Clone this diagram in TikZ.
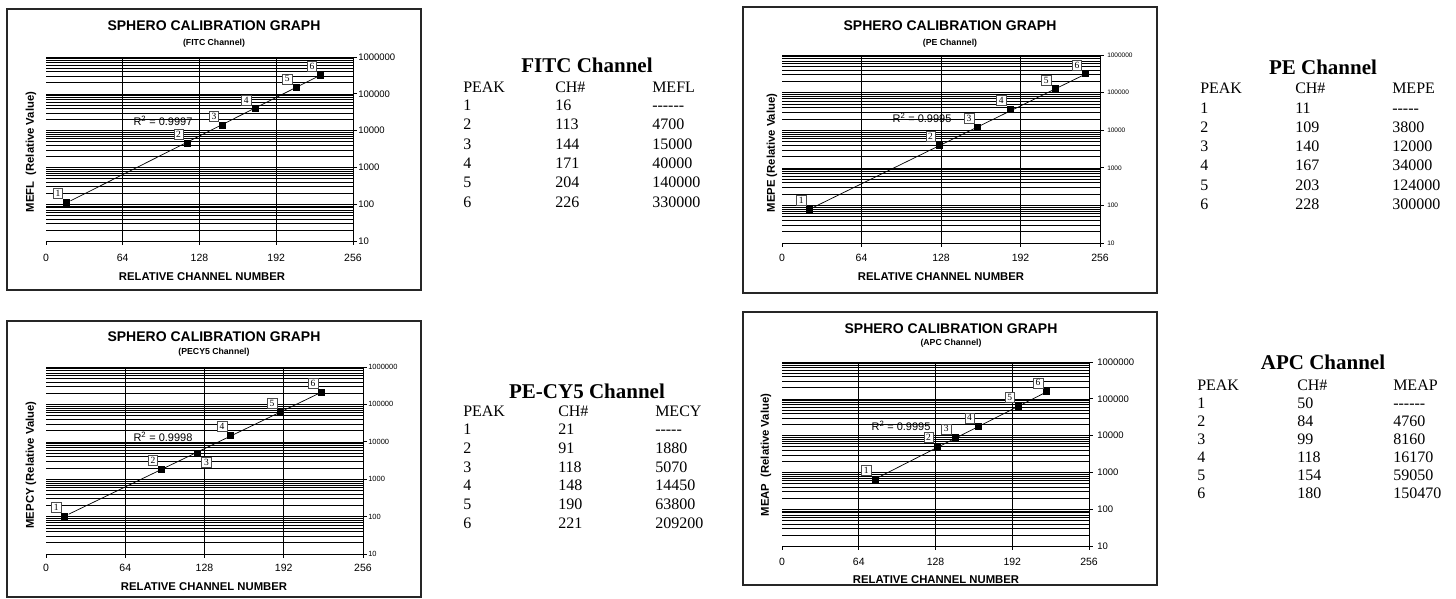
\documentclass[tikz,border=0pt]{standalone}
\usepackage{fontspec}
\setmainfont{Liberation Serif}
\setsansfont{Liberation Sans}
\usetikzlibrary{positioning}
\tikzset{every picture/.style={line width=0.5pt}}
\tikzset{
  frame/.style={draw=black!85,line width=1.3pt},
  gridline/.style={black,line width=0.55pt},
  axisline/.style={black,line width=0.8pt},
  peak/.style={rectangle,fill=black,inner sep=0pt,minimum size=7pt},
  peaklabel/.style={rectangle,draw=black!70,fill=white,inner sep=0.8pt,minimum width=9.5pt,minimum height=10pt,font=\rmfamily\fontsize{9.5}{10}\selectfont},
  trend/.style={black,line width=0.7pt},
  gtitle/.style={font=\sffamily\bfseries\fontsize{14}{16}\selectfont},
  gsub/.style={font=\sffamily\bfseries\fontsize{8.7}{10}\selectfont},
  xtitle/.style={font=\sffamily\bfseries\fontsize{11.3}{13}\selectfont},
  ytitle/.style={font=\sffamily\bfseries\fontsize{11.3}{13}\selectfont,rotate=90},
  rsq/.style={font=\sffamily\fontsize{11}{13}\selectfont},
  ttitle/.style={anchor=base,inner sep=0pt,font=\rmfamily\bfseries\fontsize{21}{24}\selectfont},
  tcell/.style={anchor=base west,inner sep=0pt,font=\rmfamily\fontsize{16}{18}\selectfont}
}
\newcommand{\hy}{-\kern0pt}
\newcommand{\calgrid}[3]{%
  \foreach \dec in {0,...,4}
    \foreach \mm in {1,...,9}
      \draw[gridline] (0,{\dec+log10(\mm)}) -- (256,{\dec+log10(\mm)});
  \draw[gridline] (0,5) -- (256,5);
  \foreach \ch in {64,128,192}
    \draw[gridline] (\ch,0) -- (\ch,5);
  \draw[axisline] (0,0) -- (256,0) -- (256,5);
  \foreach \ch in {0,64,...,256}{
    \draw[axisline] (\ch,0) -- ++(0,-4pt);
    \node[inner sep=0pt,font=\sffamily\fontsize{10.5}{12}\selectfont] at ([yshift=-#3]\ch,0) {\ch};
  }
  \foreach \dec/\val in {0/10,1/100,2/1000,3/10000,4/100000,5/1000000}{
    \draw[axisline] (256,\dec) -- ++(4pt,0);
    \node[anchor=west,inner sep=0pt,font=\sffamily\fontsize{#1}{#1}\selectfont] at ([xshift=#2]256,\dec) {\val};
  }%
}
\begin{document}
\begin{tikzpicture}[x=1pt,y=-1pt]
  \useasboundingbox (0,0) rectangle (1456,599);

  \draw[frame] (7,9) rectangle (421,290);
  \node[gtitle] (g1t) at (214,26) {SPHERO CALIBRATION GRAPH};
  \node[gsub] (g1s) at (214,43) {(FITC Channel)};
  \node[xtitle] (g1x) at (202,277) {RELATIVE CHANNEL NUMBER};
  \node[ytitle] (g1y) at (31,152) {MEFL\ \ (Relative Value)};
  \begin{scope}[shift={(46,241)},x=1.1992pt,y=36.8pt]
    \calgrid{9.5}{5pt}{17pt}
    \foreach \px/\py [count=\i] in {17.3/1.04,117.8/2.66,147.3/3.15,174.3/3.59,208.5/4.16,229.1/4.51}
      \node[peak] (g1p\i) at (\px,\py) {};
    \draw[trend] (g1p1) -- (g1p6);
    \foreach \i in {1,...,6}
      \node[peaklabel,above left=0pt of g1p\i] (g1n\i) {\i};
  \end{scope}
  \node[rsq] (g1r) at (163,121) {R\textsuperscript{2} = 0.9997};

  \draw[frame] (743,7) rectangle (1157,293);
  \node[gtitle] (g2t) at (950,26) {SPHERO CALIBRATION GRAPH};
  \node[gsub] (g2s) at (950,43) {(PE Channel)};
  \node[xtitle] (g2x) at (941,277) {RELATIVE CHANNEL NUMBER};
  \node[ytitle] (g2y) at (772,153) {MEPE (Relative Value)};
  \begin{scope}[shift={(782,243)},x=1.2422pt,y=37.6pt]
    \calgrid{6.5}{7pt}{15pt}
    \foreach \px/\py [count=\i] in {22.5/0.904,126.6/2.606,157.6/3.085,183.6/3.55,219.8/4.096,244.5/4.495}
      \node[peak] (g2p\i) at (\px,\py) {};
    \draw[trend] (g2p1) -- (g2p6);
    \foreach \i in {1,...,6}
      \node[peaklabel,above left=0pt of g2p\i] (g2n\i) {\i};
  \end{scope}
  \node[rsq] (g2r) at (922,118) {R\textsuperscript{2} = 0.9995};

  \draw[frame] (7,321) rectangle (421,597);
  \node[gtitle] (g3t) at (214,337) {SPHERO CALIBRATION GRAPH};
  \node[gsub] (g3s) at (214,352) {(PECY5 Channel)};
  \node[xtitle] (g3x) at (204,587) {RELATIVE CHANNEL NUMBER};
  \node[ytitle] (g3y) at (31,465) {MEPCY (Relative Value)};
  \begin{scope}[shift={(46,554)},x=1.2383pt,y=37.4pt]
    \calgrid{7.5}{5pt}{14pt}
    \foreach \px/\py [count=\i] in {15.3/1.016,93.4/2.27,122.5/2.69,149.2/3.18,189.6/3.79,222.7/4.33}
      \node[peak] (g3p\i) at (\px,\py) {};
    \draw[trend] (g3p1) -- (g3p6);
    \foreach \i in {1,2,4,5,6}
      \node[peaklabel,above left=0pt of g3p\i] (g3n\i) {\i};
    \node[peaklabel,below right=0pt of g3p3] (g3n3) {3};
  \end{scope}
  \node[rsq] (g3r) at (163,437) {R\textsuperscript{2} = 0.9998};

  \draw[frame] (743,312) rectangle (1157,585);
  \node[gtitle] (g4t) at (951,329) {SPHERO CALIBRATION GRAPH};
  \node[gsub] (g4s) at (951,343) {(APC Channel)};
  \node[xtitle] (g4x) at (936,580) {RELATIVE CHANNEL NUMBER};
  \node[ytitle] (g4y) at (766,455) {MEAP\ \ (Relative Value)};
  \begin{scope}[shift={(782,546)},x=1.1992pt,y=36.8pt]
    \calgrid{9.5}{8pt}{16pt}
    \foreach \px/\py [count=\i] in {77.6/1.82,129.5/2.70,144.3/2.94,163.7/3.24,197.1/3.80,220.8/4.19}
      \node[peak] (g4p\i) at (\px,\py) {};
    \draw[trend] (g4p1) -- (g4p6);
    \foreach \i in {1,...,6}
      \node[peaklabel,above left=0pt of g4p\i] (g4n\i) {\i};
  \end{scope}
  \node[rsq] (g4r) at (901,426) {R\textsuperscript{2} = 0.9995};

  \node[ttitle] (t1) at (587,72.3) {FITC Channel};
  \node[tcell] (t1h1) at (463,92.3) {PEAK};
  \node[tcell] (t1h2) at (555,92.3) {CH\#};
  \node[tcell] (t1h3) at (652,92.3) {MEFL};
  \foreach \pk/\ch/\val [count=\r from 0] in {1/16/\hy\hy\hy\hy\hy\hy,2/113/4700,3/144/15000,4/171/40000,5/204/140000,6/226/330000}{
    \node[tcell] (t1a\pk) at (463,{110.3+19.4*\r}) {\pk};
    \node[tcell] (t1b\pk) at (555,{110.3+19.4*\r}) {\ch};
    \node[tcell] (t1c\pk) at (652,{110.3+19.4*\r}) {\val};
  }

  \node[ttitle] (t2) at (1323,74.3) {PE Channel};
  \node[tcell] (t2h1) at (1200,93.3) {PEAK};
  \node[tcell] (t2h2) at (1295,93.3) {CH\#};
  \node[tcell] (t2h3) at (1392,93.3) {MEPE};
  \foreach \pk/\ch/\val [count=\r from 0] in {1/11/\hy\hy\hy\hy\hy,2/109/3800,3/140/12000,4/167/34000,5/203/124000,6/228/300000}{
    \node[tcell] (t2a\pk) at (1200,{113.3+19.2*\r}) {\pk};
    \node[tcell] (t2b\pk) at (1295,{113.3+19.2*\r}) {\ch};
    \node[tcell] (t2c\pk) at (1392,{113.3+19.2*\r}) {\val};
  }

  \node[ttitle] (t3) at (587,398.5) {PE-CY5 Channel};
  \node[tcell] (t3h1) at (463,416) {PEAK};
  \node[tcell] (t3h2) at (558,416) {CH\#};
  \node[tcell] (t3h3) at (655,416) {MECY};
  \foreach \pk/\ch/\val [count=\r from 0] in {1/21/\hy\hy\hy\hy\hy,2/91/1880,3/118/5070,4/148/14450,5/190/63800,6/221/209200}{
    \node[tcell] (t3a\pk) at (463,{434.8+18.7*\r}) {\pk};
    \node[tcell] (t3b\pk) at (558,{434.8+18.7*\r}) {\ch};
    \node[tcell] (t3c\pk) at (655,{434.8+18.7*\r}) {\val};
  }

  \node[ttitle] (t4) at (1323,369.3) {APC Channel};
  \node[tcell] (t4h1) at (1197,390.3) {PEAK};
  \node[tcell] (t4h2) at (1297,390.3) {CH\#};
  \node[tcell] (t4h3) at (1393,390.3) {MEAP};
  \foreach \pk/\ch/\val [count=\r from 0] in {1/50/\hy\hy\hy\hy\hy\hy,2/84/4760,3/99/8160,4/118/16170,5/154/59050,6/180/150470}{
    \node[tcell] (t4a\pk) at (1197,{408.3+18*\r}) {\pk};
    \node[tcell] (t4b\pk) at (1297,{408.3+18*\r}) {\ch};
    \node[tcell] (t4c\pk) at (1393,{408.3+18*\r}) {\val};
  }
\end{tikzpicture}
\end{document}
